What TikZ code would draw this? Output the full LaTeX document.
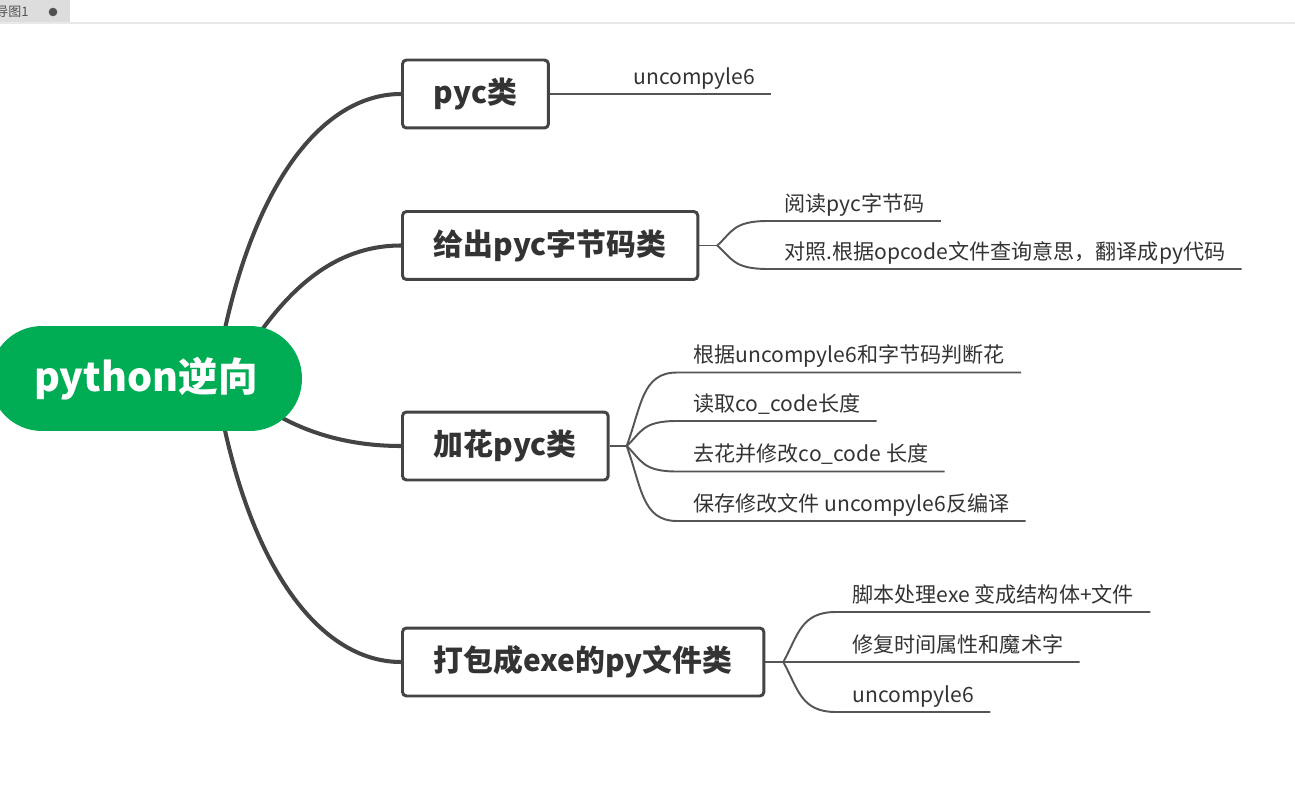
\documentclass[tikz,border=0pt]{standalone}
\usepackage{fontspec}
\setmainfont{Noto Sans CJK SC}
\usetikzlibrary{positioning,calc,backgrounds}
\definecolor{mmGreen}{RGB}{0,173,84}
\definecolor{mmLine}{RGB}{68,68,68}
\definecolor{mmText}{RGB}{51,51,51}
\definecolor{mmTwig}{RGB}{85,85,85}
\definecolor{mmTab}{RGB}{221,221,221}
\definecolor{mmRule}{RGB}{232,232,232}

\tikzset{
  rootnode/.style={fill=mmGreen, text=white, rounded corners=1.04cm, minimum width=6.24cm, minimum height=2.1cm, font=\fontsize{22.5}{26}\selectfont\bfseries},
  topicbox/.style={draw=mmLine, line width=1.7pt, rounded corners=0.08cm, fill=white, anchor=west, minimum height=1.36cm, inner xsep=0.63cm, text=mmText, font=\fontsize{17}{20}\selectfont\bfseries},
  leaf/.style={anchor=south west, inner xsep=0.32cm, inner ysep=0.12cm, text depth=0.07cm, text=mmText, font=\fontsize{12}{14}\selectfont},
  limb/.style={mmLine, line width=2.3pt},
  twig/.style={mmTwig, line width=1.1pt}
}

\begin{document}
\begin{tikzpicture}[x=0.02cm, y=-0.02cm]
  \useasboundingbox (0,0) rectangle (1295,787);
  \clip (0,0) rectangle (1295,787);

  % Tab strip
  \fill[mmTab] (0,0) rectangle (70,23);
  \draw[mmRule, line width=0.6pt] (0,23) -- (1295,23);
  \node[anchor=east, inner sep=0pt, text=mmText!85, font=\fontsize{7.4}{9}\selectfont] (tab) at (29,12) {导图1};
  \fill[mmText!85] (53,12) circle (4.3);

  % Central topic
  \node[rootnode] (root) at (146,378.5) {python逆向};

  % Main topics
  \node[topicbox] (pyc) at (401,94) {pyc类};
  \node[topicbox] (give) at (401,245.5) {给出pyc字节码类};
  \node[topicbox] (jia) at (401,446) {加花pyc类};
  \node[topicbox] (pack) at (401,662) {打包成exe的py文件类};

  % Subtopics
  \node[leaf] (u1) at (617,94) {uncompyle6};
  \node[leaf] (g1) at (768,221) {阅读pyc字节码};
  \node[leaf] (g2) at (768,269) {对照.根据opcode文件查询意思，翻译成py代码};
  \node[leaf] (j1) at (677,372.5) {根据uncompyle6和字节码判断花};
  \node[leaf] (j2) at (677,421) {读取co\_code长度};
  \node[leaf] (j3) at (677,471.5) {去花并修改co\_code 长度};
  \node[leaf] (j4) at (677,521) {保存修改文件 uncompyle6反编译};
  \node[leaf] (d1) at (836,612) {脚本处理exe 变成结构体+文件};
  \node[leaf] (d2) at (836,662) {修复时间属性和魔术字};
  \node[leaf] (d3) at (836,712) {uncompyle6};

  % Limbs from the central topic
  \coordinate (hub) at ($(root.east)+(-87,1.5)$);
  \coordinate (hub2) at ($(root.east)+(-72,0)$);
  \begin{scope}[on background layer]
    \draw[limb] (hub) .. controls +(30,-190) and +(-81,0) .. (pyc.west);
    \draw[limb] (hub2) .. controls +(40,-68) and +(-81,0) .. (give.west);
    \draw[limb] (hub2) .. controls +(38,40) and +(-75,0) .. (jia.west);
    \draw[limb] (hub) .. controls +(30,187) and +(-81,0) .. (pack.west);
  \end{scope}

  % Twigs to subtopics
  \draw[twig] (pyc.east) -- (u1.south west) -- (u1.south east);
  \coordinate (gBr) at ($(give.east)+(18,0)$);
  \coordinate (jBr) at ($(jia.east)+(17,0)$);
  \coordinate (dBr) at ($(pack.east)+(18,0)$);
  \draw[twig] (give.east) -- (gBr);
  \draw[twig] (jia.east) -- (jBr);
  \draw[twig] (pack.east) -- (dBr);
  \foreach \leaf in {g1,g2}
    \draw[twig] (gBr) .. controls ($(gBr)!.55!(gBr |- \leaf.south west)+(15,0)$) and +(-35,0) .. (\leaf.south west) -- (\leaf.south east);
  \foreach \leaf in {j1,j2,j3,j4}
    \draw[twig] (jBr) .. controls ($(jBr)!.55!(jBr |- \leaf.south west)+(15,0)$) and +(-35,0) .. (\leaf.south west) -- (\leaf.south east);
  \foreach \leaf in {d1,d2,d3}
    \draw[twig] (dBr) .. controls ($(dBr)!.55!(dBr |- \leaf.south west)+(15,0)$) and +(-35,0) .. (\leaf.south west) -- (\leaf.south east);
\end{tikzpicture}
\end{document}
